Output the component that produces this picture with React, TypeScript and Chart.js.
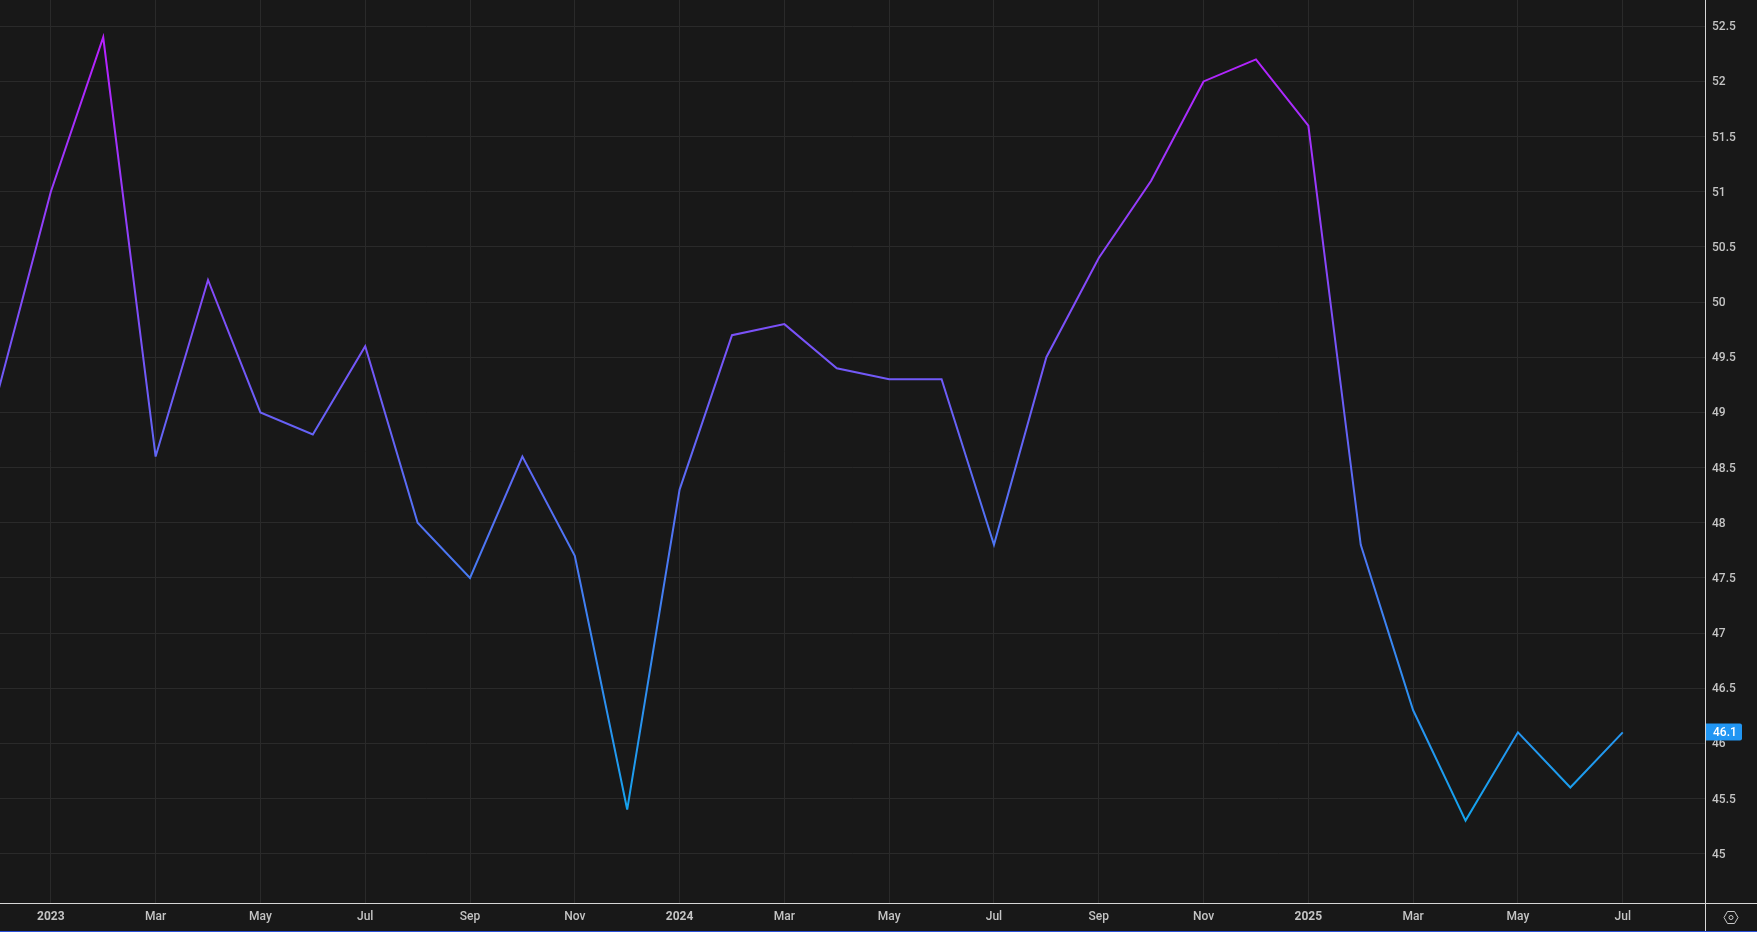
import React, { useEffect, useRef } from "react";
import { Chart, registerables } from "chart.js";

Chart.register(...registerables);

// Months from Dec 2022 to Jul 2025
const months = [
  "Dec 2022", "Jan 2023", "Feb 2023", "Mar 2023", "Apr 2023", "May 2023", "Jun 2023", "Jul 2023",
  "Aug 2023", "Sep 2023", "Oct 2023", "Nov 2023", "Dec 2023", "Jan 2024", "Feb 2024", "Mar 2024",
  "Apr 2024", "May 2024", "Jun 2024", "Jul 2024", "Aug 2024", "Sep 2024", "Oct 2024", "Nov 2024",
  "Dec 2024", "Jan 2025", "Feb 2025", "Mar 2025", "Apr 2025", "May 2025", "Jun 2025", "Jul 2025",
];
const values = [
  49.2, 51, 52.4, 48.6, 50.2, 49, 48.8, 49.6, 48, 47.5, 48.6, 47.7, 45.4, 48.3, 49.7, 49.8,
  49.4, 49.3, 49.3, 47.8, 49.5, 50.4, 51.1, 52, 52.2, 51.6, 47.8, 46.3, 45.3, 46.1, 45.6, 46.1,
];
const xTickLabels: Record<number, string> = {
  1: "2023", 3: "Mar", 5: "May", 7: "Jul", 9: "Sep", 11: "Nov",
  13: "2024", 15: "Mar", 17: "May", 19: "Jul", 21: "Sep", 23: "Nov",
  25: "2025", 27: "Mar", 29: "May", 31: "Jul",
};
const lastValue = "46.1";

const BG = "#181818";
const GRID = "#2a2a2a";
const AXIS_LINE = "#d6d6d6";
const TEXT = "#c4c4c4";
const FONT = "Roboto";

const chromePlugin = {
  id: "chrome",
  beforeDatasetsDraw(chart: any) {
    chart.ctx.miterLimit = 4.7;
  },
  afterDraw(chart: any) {
    const { ctx, chartArea, scales, width, height } = chart;
    ctx.save();
    // axis borders
    ctx.fillStyle = AXIS_LINE;
    ctx.fillRect(chartArea.right, 0, 1, height - 1);
    ctx.fillRect(0, chartArea.bottom, width, 1);
    // thin strip at the page bottom
    ctx.fillStyle = "#2a4fd6";
    ctx.fillRect(0, height - 1, width, 1);
    // last value label
    const y = scales.y.getPixelForValue(Number(lastValue));
    ctx.fillStyle = "#2196f3";
    ctx.beginPath();
    ctx.roundRect(chartArea.right + 1, Math.round(y) - 8.5, 36, 17, [0, 2, 2, 0]);
    ctx.fill();
    ctx.fillStyle = "#ffffff";
    ctx.font = `500 12px ${FONT}`;
    ctx.textAlign = "left";
    ctx.textBaseline = "middle";
    ctx.fillText(lastValue, chartArea.right + 8, Math.round(y) + 1);
    // settings icon
    const cx = 1731;
    const cy = 917.5;
    ctx.strokeStyle = "#c8c8c8";
    ctx.lineWidth = 1;
    ctx.beginPath();
    [[-7, 0], [-3.5, -6], [3.5, -6], [7, 0], [3.5, 6], [-3.5, 6]].forEach(([dx, dy], i) => {
      if (i === 0) ctx.moveTo(cx + dx, cy + dy);
      else ctx.lineTo(cx + dx, cy + dy);
    });
    ctx.closePath();
    ctx.stroke();
    ctx.beginPath();
    ctx.arc(cx, cy, 2, 0, Math.PI * 2);
    ctx.stroke();
    ctx.restore();
  },
};

const bgPlugin = {
  id: "bg",
  beforeDraw(chart: any) {
    const { ctx, width, height } = chart;
    ctx.save();
    ctx.fillStyle = BG;
    ctx.fillRect(0, 0, width, height);
    ctx.restore();
  },
};

export default function App() {
  const ref = useRef<HTMLCanvasElement>(null);

  useEffect(() => {
    if (!ref.current) return;
    const chart = new Chart(ref.current, {
      type: "line",
      data: {
        labels: months,
        datasets: [
          {
            data: values.map((v, i) => ({ x: i, y: v })),
            borderWidth: 2,
            pointRadius: 0,
            tension: 0,
            borderJoinStyle: "miter",
            borderColor: (c: any) => {
              const { ctx } = c.chart;
              const g = ctx.createLinearGradient(0, 35, 0, 825);
              g.addColorStop(0, "#b91fff");
              g.addColorStop(1, "#12a5ee");
              return g;
            },
          },
        ],
      },
      options: {
        responsive: false,
        animation: false,
        devicePixelRatio: 1,
        layout: { padding: 0, autoPadding: false },
        plugins: { legend: { display: false }, title: { display: false }, tooltip: { enabled: false } },
        scales: {
          x: {
            type: "linear",
            min: 0.03,
            max: 32.57,
            afterBuildTicks: (s: any) => {
              s.ticks = Object.keys(xTickLabels).map((k) => ({ value: Number(k) }));
            },
            afterFit: (s: any) => {
              s.height = 29;
              s.paddingLeft = 0;
              s.paddingRight = 0;
            },
            grid: { color: GRID, drawTicks: false, lineWidth: 1 },
            border: { display: false },
            ticks: {
              autoSkip: false,
              maxRotation: 0,
              padding: 7,
              color: TEXT,
              font: (c: any) => {
                const label = xTickLabels[c.tick?.value];
                const bold = label && /^\d+$/.test(label);
                return { family: FONT, size: 12, weight: bold ? "bold" : "500" };
              },
              callback: (v: any) => xTickLabels[v] ?? "",
            },
          },
          y: {
            type: "linear",
            position: "right",
            min: 44.553,
            max: 52.738,
            afterFit: (s: any) => {
              s.width = 52;
              s.paddingTop = 0;
              s.paddingBottom = 0;
            },
            grid: { color: GRID, drawTicks: false, lineWidth: 1 },
            border: { display: false },
            ticks: {
              includeBounds: false,
              stepSize: 0.5,
              padding: 7,
              labelOffset: 1,
              color: TEXT,
              crossAlign: "near",
              font: { family: FONT, size: 12, weight: "500" },
              callback: (v: any) => String(v),
            },
          },
        },
      } as any,
      plugins: [bgPlugin, chromePlugin],
    });
    return () => chart.destroy();
  }, []);

  return (
    <div style={{ position: "fixed", left: 0, top: 0, width: 1757, height: 932, background: BG }}>
      <canvas ref={ref} width={1757} height={932} style={{ display: "block" }} />
    </div>
  );
}
